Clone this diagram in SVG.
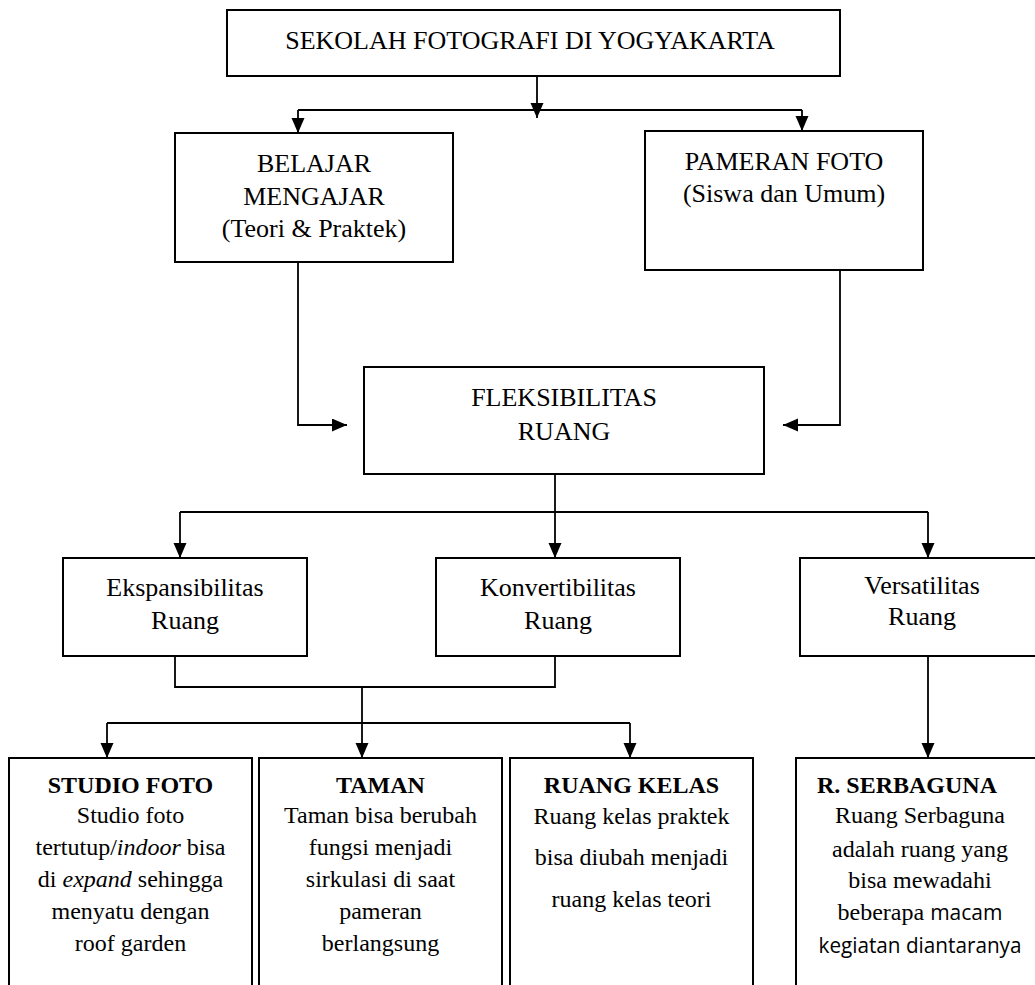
<svg xmlns="http://www.w3.org/2000/svg" width="1035" height="985" viewBox="0 0 1035 985">
  <style>
    .box { fill: #ffffff; stroke: #000000; stroke-width: 2; }
    .ln { fill: none; stroke: #000000; stroke-width: 1.8; }
    .arr { fill: none; stroke: #000000; stroke-width: 1.8; marker-end: url(#tip); }
    text { font-family: "Liberation Serif", "Times New Roman", serif; fill: #000000; text-anchor: middle; }
    .t26 { font-size: 26px; }
    .t24 { font-size: 24px; }
    .b { font-weight: bold; }
    .i { font-style: italic; }
    .sans { font-family: "Open Sans", "Liberation Sans", sans-serif; font-size: 21px; }
  </style>
  <defs>
    <marker id="tip" markerUnits="userSpaceOnUse" markerWidth="16" markerHeight="14" refX="15" refY="6.5" orient="auto">
      <path d="M0,0 L15,6.5 L0,13 z" fill="#000000"/>
    </marker>
  </defs>

  <rect width="1035" height="985" fill="#ffffff"/>

  <!-- connectors -->
  <g id="connectors">
    <!-- school to the two activities -->
    <path class="arr" d="M537,76 V118"/>
    <path class="ln" d="M298,110 H802"/>
    <path class="arr" d="M298,110 V133"/>
    <path class="arr" d="M802,110 V131"/>
    <!-- activities into flexibility -->
    <path class="arr" d="M298,262 V425 H347"/>
    <path class="arr" d="M840,270 V425 H783"/>
    <!-- flexibility to its three kinds -->
    <path class="ln" d="M555,474 V512"/>
    <path class="ln" d="M180,512 H928"/>
    <path class="arr" d="M180,512 V558"/>
    <path class="arr" d="M555,512 V558"/>
    <path class="arr" d="M928,512 V558"/>
    <!-- expansibility + convertibility to rooms -->
    <path class="ln" d="M175,656 V687 H555 V656"/>
    <path class="arr" d="M362,687 V758"/>
    <path class="ln" d="M107,723 H630"/>
    <path class="arr" d="M107,723 V758"/>
    <path class="arr" d="M630,723 V758"/>
    <!-- versatility to multipurpose room -->
    <path class="arr" d="M928,656 V758"/>
  </g>

  <g id="sekolah">
    <rect class="box" x="227" y="10" width="613" height="66"/>
    <text class="t26" x="530" y="49">SEKOLAH FOTOGRAFI DI YOGYAKARTA</text>
  </g>

  <g id="belajar">
    <rect class="box" x="175" y="133" width="278" height="129"/>
    <text class="t26" x="314" y="172">BELAJAR</text>
    <text class="t26" x="314" y="205">MENGAJAR</text>
    <text class="t26" x="314" y="237">(Teori &amp; Praktek)</text>
  </g>

  <g id="pameran">
    <rect class="box" x="645" y="131" width="278" height="139"/>
    <text class="t26" x="784" y="170">PAMERAN FOTO</text>
    <text class="t26" x="784" y="202">(Siswa dan Umum)</text>
  </g>

  <g id="fleksibilitas">
    <rect class="box" x="364" y="367" width="400" height="107"/>
    <text class="t26" x="564" y="406">FLEKSIBILITAS</text>
    <text class="t26" x="564" y="440">RUANG</text>
  </g>

  <g id="ekspansibilitas">
    <rect class="box" x="63" y="558" width="244" height="98"/>
    <text class="t26" x="185" y="596">Ekspansibilitas</text>
    <text class="t26" x="185" y="629">Ruang</text>
  </g>

  <g id="konvertibilitas">
    <rect class="box" x="436" y="558" width="244" height="98"/>
    <text class="t26" x="558" y="596">Konvertibilitas</text>
    <text class="t26" x="558" y="629">Ruang</text>
  </g>

  <g id="versatilitas">
    <rect class="box" x="800" y="558" width="250" height="98"/>
    <text class="t26" x="922" y="594">Versatilitas</text>
    <text class="t26" x="922" y="625">Ruang</text>
  </g>

  <g id="studio-foto">
    <rect class="box" x="9" y="758" width="243" height="240"/>
    <text class="t24 b" x="130.5" y="793">STUDIO FOTO</text>
    <text class="t24" x="130.5" y="823">Studio foto</text>
    <text class="t24" x="130.5" y="855">tertutup/<tspan class="i">indoor</tspan> bisa</text>
    <text class="t24" x="130.5" y="887">di <tspan class="i">expand</tspan> sehingga</text>
    <text class="t24" x="130.5" y="919">menyatu dengan</text>
    <text class="t24" x="130.5" y="951">roof garden</text>
  </g>

  <g id="taman">
    <rect class="box" x="259" y="758" width="243" height="240"/>
    <text class="t24 b" x="380.5" y="793">TAMAN</text>
    <text class="t24" x="380.5" y="823">Taman bisa berubah</text>
    <text class="t24" x="380.5" y="855">fungsi menjadi</text>
    <text class="t24" x="380.5" y="887">sirkulasi di saat</text>
    <text class="t24" x="380.5" y="919">pameran</text>
    <text class="t24" x="380.5" y="951">berlangsung</text>
  </g>

  <g id="ruang-kelas">
    <rect class="box" x="510" y="758" width="243" height="240"/>
    <text class="t24 b" x="631.5" y="793">RUANG KELAS</text>
    <text class="t24" x="631.5" y="824">Ruang kelas praktek</text>
    <text class="t24" x="631.5" y="865">bisa diubah menjadi</text>
    <text class="t24" x="631.5" y="907">ruang kelas teori</text>
  </g>

  <g id="serbaguna">
    <rect class="box" x="796" y="758" width="260" height="240"/>
    <text class="t24 b" x="817" y="793" style="text-anchor:start">R. SERBAGUNA</text>
    <text class="t24" x="920" y="823">Ruang Serbaguna</text>
    <text class="t24" x="920" y="857">adalah ruang yang</text>
    <text class="t24" x="920" y="888">bisa mewadahi</text>
    <text class="t24" x="920" y="920">beberapa <tspan class="sans">macam</tspan></text>
    <text class="sans" x="920" y="953" textLength="203" lengthAdjust="spacingAndGlyphs">kegiatan diantaranya</text>
  </g>
</svg>
